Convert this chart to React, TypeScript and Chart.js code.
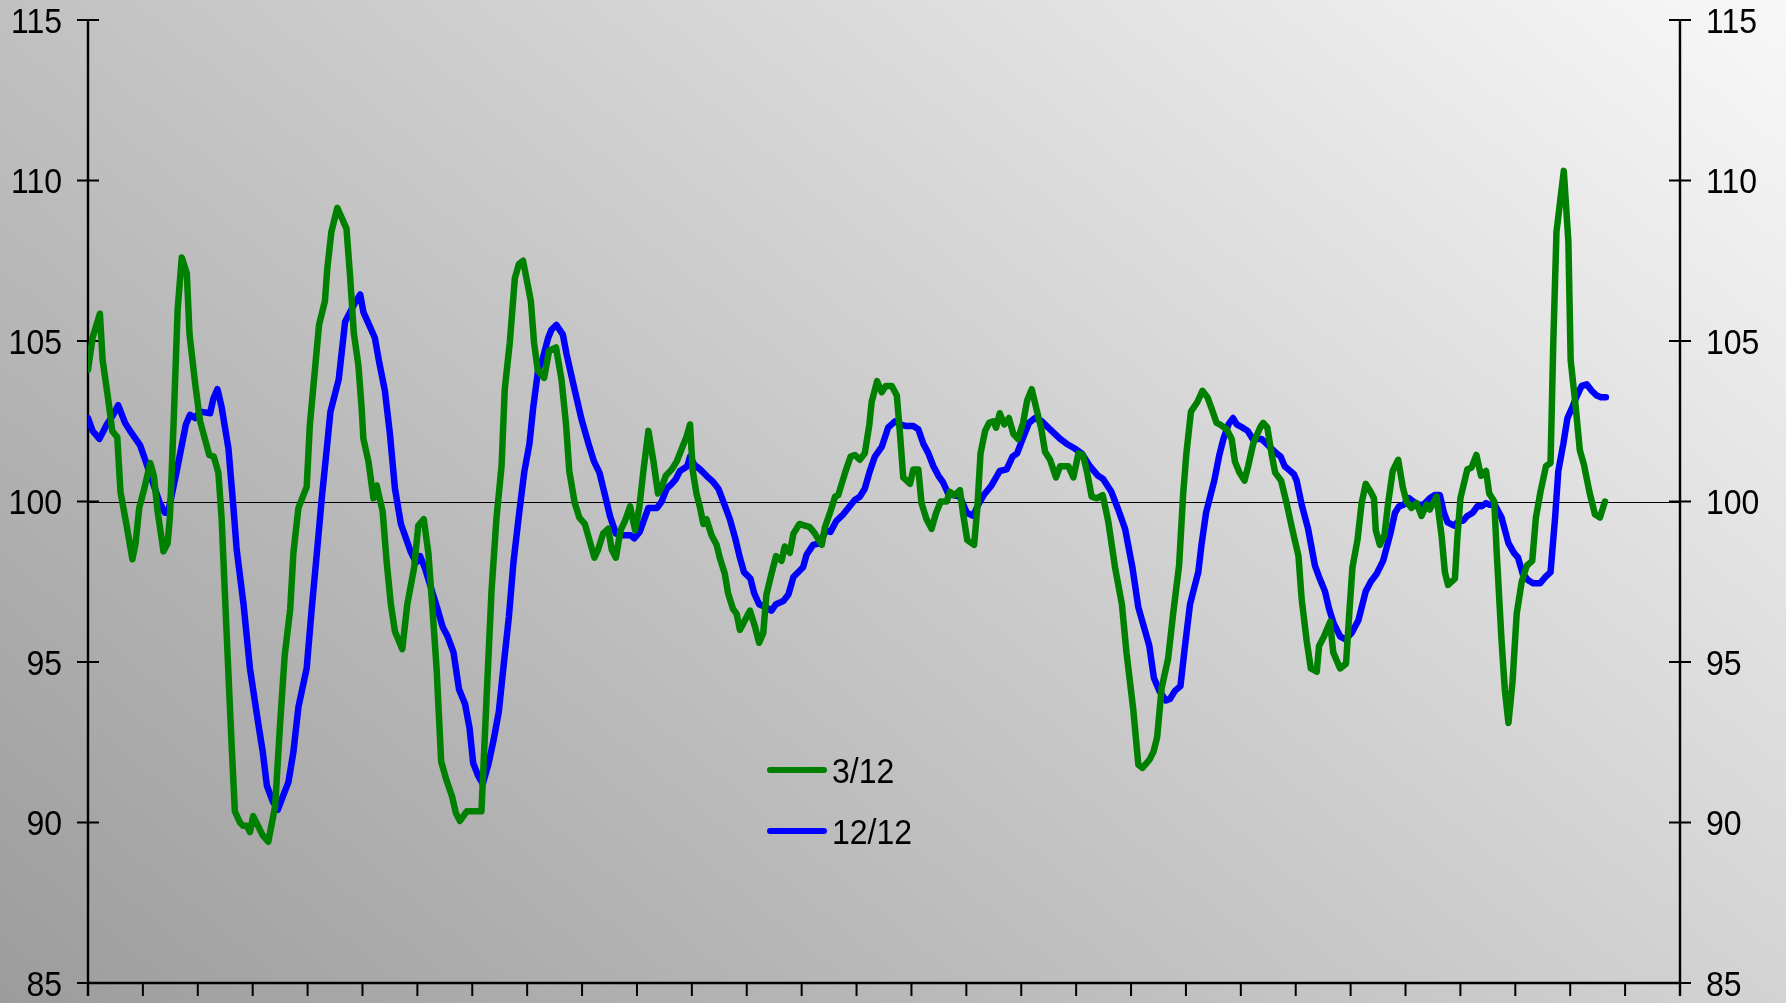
import React, { useEffect, useRef } from "react";
import { Chart, registerables } from "chart.js";

Chart.register(...registerables);

const W = 1786;
const H = 1003;

const seriesLabels = ["3/12", "12/12"];
const seriesColors = ["#008000", "#0000ff"];

const yMin = 85;
const yMax = 115;
const yStep = 5;
const xMin = 0;
const xMax = 348;
const xStep = 12;
const refValue = 100;

const greenMonths = [
  0, 1, 2.6, 3.2, 4.4, 5.3, 6.4, 7.1, 8.5, 9.7, 10.4, 11.2, 12.3, 13.6, 14.4, 15.2, 16.5, 17.4, 17.9, 18.7,
  19.6, 20.5, 21.6, 22.2, 23.4, 24.5, 26.5, 27.5, 28.5, 29.2, 30.3, 31.4, 32.1, 33.2, 33.9, 34.7, 35.4, 36.1, 38.2, 39.4,
  40.9, 42.0, 43.0, 44.2, 44.9, 46.0, 47.1, 47.8, 48.5, 49.6, 50.5, 51.8, 52.3, 53.2, 54.5, 56.5, 57.3, 58.1, 59.1, 59.8,
  60.2, 61.3, 62.4, 63.1, 64.4, 65.3, 66.2, 67.1, 68.7, 69.8, 71.3, 72.2, 73.4, 74.4, 75.3, 76.2, 77.2, 78.4, 79.6, 80.4,
  81.3, 82.8, 86.0, 87.1, 88.2, 89.3, 90.4, 91.1, 92.2, 93.3, 94.2, 95.1, 96.8, 97.5, 98.3, 99.7, 100.8, 102.3, 103.5, 104.5,
  105.2, 106.4, 107.4, 108.6, 109.7, 110.7, 111.5, 112.6, 113.7, 114.5, 115.4, 116.4, 117.4, 118.5, 119.6, 120.5, 121.4, 122.5, 123.6, 124.6,
  125.4, 126.3, 127.6, 128.7, 129.8, 130.8, 131.6, 132.2, 133.0, 133.8, 134.5, 135.2, 136.3, 137.4, 138.1, 139.2, 139.9, 141.0, 141.8, 142.5,
  143.6, 144.7, 145.8, 146.7, 147.6, 148.3, 149.4, 150.4, 151.6, 152.3, 153.4, 154.2, 155.5, 156.7, 157.8, 158.9, 160.4, 161.1, 162.2, 163.3,
  164.0, 165.5, 166.7, 167.6, 168.7, 169.8, 170.8, 171.3, 172.5, 173.5, 174.4, 175.7, 176.8, 177.5, 178.2, 179.7, 180.4, 181.5, 182.2, 183.3,
  184.4, 185.4, 186.4, 187.7, 188.4, 189.4, 190.6, 191.3, 192.2, 193.7, 194.4, 195.1, 196.1, 197.0, 197.9, 198.5, 199.3, 200.3, 201.3, 202.3,
  203.3, 204.4, 205.3, 206.3, 207.3, 208.4, 209.2, 210.3, 211.6, 212.5, 214.3, 215.4, 216.5, 217.5, 218.4, 219.4, 220.6, 221.8, 223.0, 224.5,
  226.0, 227.0, 228.5, 229.6, 230.5, 232.0, 232.9, 233.7, 234.7, 236.1, 237.2, 238.5, 239.4, 240.1, 241.1, 242.5, 243.6, 244.7, 245.6, 246.7,
  247.4, 248.9, 250.0, 250.7, 251.7, 252.8, 253.6, 254.7, 256.2, 256.9, 257.8, 258.7, 259.5, 260.8, 262.0, 263.3, 264.6, 265.3, 266.4, 267.3,
  268.6, 269.1, 270.2, 271.5, 272.2, 273.7, 275.0, 275.7, 276.4, 277.5, 278.4, 279.3, 280.4, 281.1, 281.5, 282.4, 283.4, 284.2, 285.2, 286.4,
  287.4, 288.2, 289.3, 290.4, 291.5, 292.6, 293.3, 294.8, 295.9, 296.6, 297.3, 298.8, 299.3, 300.0, 301.5, 302.4, 303.5, 304.5, 305.6, 306.3,
  307.4, 307.9, 309.0, 309.7, 310.5, 311.4, 312.3, 313.4, 314.5, 315.7, 316.5, 317.5, 318.7, 319.7, 320.3, 321.0, 322.6, 323.6, 324.1, 325.2,
  326.1, 327.0, 328.2, 329.4, 330.5, 331.6,
];
const greenValues = [
  104.1, 105.1, 105.85, 104.4, 103.2, 102.2, 102.0, 100.3, 99.2, 98.2, 98.7, 99.8, 100.4, 101.2, 100.8, 99.7, 98.45, 98.7, 99.5, 102.4,
  106.0, 107.6, 107.1, 105.2, 103.7, 102.5, 101.45, 101.4, 100.9, 99.5, 95.9, 92.4, 90.35, 90.0, 89.9, 89.9, 89.7, 90.2, 89.6, 89.4,
  90.5, 93.1, 95.2, 96.65, 98.4, 99.8, 100.2, 100.45, 102.4, 104.1, 105.5, 106.25, 107.25, 108.4, 109.15, 108.5, 107.0, 105.25, 104.25, 102.95,
  101.95, 101.25, 100.1, 100.5, 99.7, 98.1, 96.8, 95.95, 95.4, 96.8, 97.95, 99.25, 99.45, 98.4, 96.65, 94.8, 91.9, 91.3, 90.8, 90.3,
  90.05, 90.35, 90.35, 93.8, 97.2, 99.5, 101.1, 103.5, 104.95, 106.95, 107.4, 107.5, 106.25, 104.95, 104.1, 103.85, 104.7, 104.8, 103.8, 102.4,
  100.95, 99.95, 99.5, 99.3, 98.75, 98.25, 98.5, 99.0, 99.15, 98.5, 98.25, 99.1, 99.4, 99.85, 99.1, 99.8, 100.95, 102.2, 101.25, 100.25,
  100.45, 100.8, 101.0, 101.25, 101.65, 102.0, 102.4, 100.95, 100.25, 99.8, 99.3, 99.45, 98.95, 98.65, 98.25, 97.75, 97.15, 96.65, 96.5, 96.0,
  96.3, 96.6, 96.1, 95.6, 95.9, 97.1, 97.75, 98.3, 98.15, 98.6, 98.4, 99.0, 99.3, 99.25, 99.2, 99.0, 98.65, 99.2, 99.65, 100.15,
  100.2, 100.9, 101.4, 101.45, 101.3, 101.5, 102.4, 103.1, 103.75, 103.4, 103.6, 103.6, 103.3, 102.1, 100.75, 100.55, 101.0, 101.0, 99.95, 99.45,
  99.15, 99.65, 100.0, 100.0, 100.3, 100.2, 100.35, 99.6, 98.8, 98.65, 99.8, 101.5, 102.2, 102.45, 102.5, 102.3, 102.75, 102.4, 102.6, 102.1,
  101.95, 102.45, 103.15, 103.5, 102.9, 102.25, 101.55, 101.3, 100.75, 101.1, 101.1, 100.75, 101.5, 101.45, 100.9, 100.15, 100.1, 100.2, 99.4, 97.95,
  96.8, 95.3, 93.5, 91.8, 91.7, 91.95, 92.2, 92.65, 94.2, 95.1, 96.5, 98.0, 100.25, 101.5, 102.8, 103.1, 103.45, 103.25, 102.9, 102.45,
  102.4, 102.25, 101.95, 101.25, 100.9, 100.65, 101.1, 101.8, 102.3, 102.45, 102.3, 101.5, 100.9, 100.65, 99.95, 99.1, 98.3, 96.95, 95.65, 94.8,
  94.7, 95.5, 95.8, 96.25, 95.3, 94.8, 94.95, 96.5, 97.95, 98.8, 99.95, 100.55, 100.3, 100.1, 99.1, 98.65, 98.95, 99.95, 100.95, 101.3,
  100.45, 100.0, 99.8, 99.95, 99.55, 99.9, 99.75, 100.15, 98.9, 97.8, 97.4, 97.6, 98.8, 100.1, 101.0, 101.05, 101.45, 100.8, 100.95, 100.25,
  100.0, 98.5, 95.65, 94.15, 93.1, 94.4, 96.5, 97.5, 98.0, 98.15, 99.5, 100.3, 101.1, 101.2, 104.95, 108.4, 110.3, 108.1, 104.4, 102.95,
  101.6, 101.15, 100.3, 99.6, 99.5, 100.0,
];

const blueMonths = [
  0, 1, 2.5, 4.1, 5.5, 6.6, 8.1, 9.2, 11.4, 12.5, 13.9, 15.7, 16.8, 17.5, 19.4, 21.4, 22.3, 23.4, 24.5, 26.7,
  27.4, 28.3, 29.2, 30.7, 31.8, 32.5, 34.0, 35.4, 37.2, 38.2, 39.1, 40.4, 41.5, 42.7, 43.8, 44.9, 46.0, 47.8, 48.9, 50.0,
  51.1, 52.2, 53.0, 54.8, 56.2, 57.3, 58.4, 59.5, 60.2, 61.3, 62.7, 63.7, 64.9, 66.0, 67.1, 68.4, 69.4, 70.5, 71.7, 72.6,
  73.7, 75.1, 76.4, 77.5, 78.6, 79.9, 81.1, 82.4, 83.4, 84.2, 85.3, 86.3, 87.5, 88.7, 89.8, 90.9, 92.0, 93.0, 94.3, 95.4,
  96.5, 97.3, 98.4, 99.4, 100.6, 101.3, 102.4, 103.8, 104.6, 105.7, 107.0, 107.9, 109.4, 110.6, 111.8, 113.0, 114.1, 115.4, 116.6, 117.7,
  118.6, 119.4, 120.6, 121.6, 122.5, 124.4, 125.4, 126.5, 127.6, 128.5, 129.4, 131.0, 131.6, 132.5, 133.8, 135.2, 136.7, 137.8, 139.0, 140.3,
  141.4, 142.5, 143.4, 144.8, 145.6, 146.7, 148.2, 149.4, 150.4, 152.0, 153.1, 154.2, 154.9, 156.3, 157.1, 158.5, 160.0, 161.3, 162.3, 163.6,
  165.1, 166.5, 167.6, 168.7, 169.8, 170.8, 172.0, 173.5, 174.9, 176.4, 177.5, 178.9, 180.4, 181.5, 182.6, 183.7, 184.8, 185.9, 186.9, 188.0,
  189.1, 190.6, 192.1, 193.5, 194.6, 195.8, 197.5, 199.3, 200.8, 202.1, 203.1, 204.3, 205.7, 207.0, 208.5, 209.9, 211.4, 212.5, 213.9, 215.7,
  217.2, 219.0, 220.8, 221.9, 223.7, 225.2, 226.7, 228.3, 229.6, 230.8, 232.0, 233.0, 234.2, 235.6, 236.5, 237.6, 238.8, 239.8, 240.9, 241.7,
  242.7, 243.4, 244.4, 245.2, 246.2, 247.3, 248.2, 249.3, 250.3, 251.1, 252.4, 253.5, 254.6, 255.4, 256.5, 257.6, 258.7, 259.8, 260.7, 261.6,
  262.4, 263.6, 264.2, 265.3, 266.7, 268.2, 269.1, 270.4, 271.3, 272.3, 273.7, 274.9, 276.2, 277.7, 279.3, 280.4, 281.7, 283.1, 284.6, 285.7,
  286.6, 287.6, 288.8, 289.7, 290.8, 291.9, 293.3, 294.4, 295.5, 296.4, 297.2, 298.6, 299.7, 300.6, 301.5, 302.7, 303.7, 304.6, 305.6, 306.4,
  307.5, 309.0, 310.5, 311.7, 312.6, 313.6, 314.8, 315.9, 317.4, 318.6, 319.7, 320.7, 321.4, 322.5, 323.4, 324.5, 325.5, 326.5, 327.6, 328.7,
  329.8, 330.7, 331.8,
];
const blueValues = [
  102.6, 102.2, 101.95, 102.4, 102.7, 103.0, 102.45, 102.2, 101.75, 101.3, 100.7, 99.95, 99.65, 99.65, 100.95, 102.4, 102.7, 102.6, 102.8, 102.75,
  103.2, 103.5, 102.95, 101.65, 99.8, 98.5, 96.8, 94.8, 93.1, 92.2, 91.15, 90.65, 90.4, 90.85, 91.25, 92.2, 93.6, 94.8, 96.65, 98.35,
  100.1, 101.65, 102.8, 103.8, 105.6, 105.9, 106.2, 106.45, 105.9, 105.55, 105.1, 104.3, 103.45, 102.1, 100.4, 99.3, 98.9, 98.45, 98.1, 98.3,
  97.9, 97.25, 96.65, 96.1, 95.8, 95.3, 94.15, 93.7, 92.95, 91.85, 91.45, 91.2, 91.8, 92.6, 93.45, 94.95, 96.4, 98.1, 99.7, 100.95,
  101.8, 102.9, 104.1, 104.45, 105.1, 105.35, 105.5, 105.2, 104.6, 103.9, 103.1, 102.55, 101.8, 101.25, 100.9, 100.2, 99.55, 99.0, 98.95, 98.95,
  98.95, 98.85, 99.05, 99.45, 99.8, 99.8, 100.0, 100.4, 100.55, 100.7, 100.95, 101.1, 101.4, 101.15, 101.0, 100.8, 100.6, 100.4, 99.95, 99.45,
  98.9, 98.25, 97.8, 97.6, 97.15, 96.8, 96.7, 96.6, 96.8, 96.9, 97.1, 97.65, 97.75, 97.95, 98.35, 98.65, 98.7, 99.1, 99.05, 99.4,
  99.6, 99.85, 100.05, 100.15, 100.4, 100.9, 101.4, 101.7, 102.3, 102.5, 102.4, 102.35, 102.35, 102.25, 101.8, 101.5, 101.1, 100.8, 100.6, 100.25,
  100.2, 100.15, 99.65, 99.55, 99.9, 100.2, 100.5, 100.95, 101.0, 101.4, 101.5, 101.95, 102.45, 102.6, 102.5, 102.3, 102.1, 101.95, 101.8, 101.65,
  101.5, 101.1, 100.8, 100.7, 100.3, 99.75, 99.15, 97.95, 96.7, 96.1, 95.5, 94.5, 94.1, 93.8, 93.85, 94.1, 94.25, 95.5, 96.8, 97.25,
  97.8, 98.65, 99.65, 100.1, 100.65, 101.45, 101.95, 102.4, 102.6, 102.4, 102.3, 102.2, 101.95, 101.95, 101.95, 101.8, 101.65, 101.5, 101.4, 101.1,
  101.0, 100.85, 100.65, 99.9, 99.15, 98.0, 97.65, 97.2, 96.65, 96.2, 95.8, 95.7, 95.9, 96.3, 97.2, 97.5, 97.75, 98.15, 98.95, 99.65,
  99.85, 99.9, 100.1, 100.0, 99.9, 99.9, 100.1, 100.2, 100.2, 99.65, 99.35, 99.25, 99.4, 99.4, 99.55, 99.65, 99.85, 99.85, 99.95, 99.9,
  99.9, 99.5, 98.7, 98.4, 98.25, 97.75, 97.55, 97.45, 97.45, 97.65, 97.8, 99.5, 100.95, 101.8, 102.6, 102.95, 103.3, 103.6, 103.65, 103.45,
  103.3, 103.25, 103.25,
];

const FONT_FAMILY = "'Liberation Sans', Arial, Helvetica, sans-serif";
const FONT_SIZE = 32;
const TEXT_STRETCH = 1.11; // glyphs in the reference are slightly taller than wide
const LINE_W = 6.5;

// draw text vertically centered on y (digit-height centre), stretched vertically
function drawText(ctx: CanvasRenderingContext2D, text: string, x: number, y: number, align: CanvasTextAlign) {
  ctx.save();
  ctx.translate(x, y);
  ctx.scale(1, TEXT_STRETCH);
  ctx.font = `${FONT_SIZE}px ${FONT_FAMILY}`;
  ctx.textAlign = align;
  ctx.textBaseline = "alphabetic";
  ctx.fillStyle = "#000";
  ctx.fillText(text, 0, 0.358 * FONT_SIZE);
  ctx.restore();
}

const axesPlugin = {
  id: "axesPlugin",
  beforeDatasetsDraw(chart: any) {
    const { ctx, chartArea: a, scales } = chart;
    const ys = scales.y;
    const xs = scales.x;
    ctx.save();
    // reference line
    ctx.strokeStyle = "#000";
    ctx.lineWidth = 1;
    const yr = Math.round(ys.getPixelForValue(refValue)) + 0.5;
    ctx.beginPath();
    ctx.moveTo(a.left, yr);
    ctx.lineTo(a.right, yr);
    ctx.stroke();
    // axis lines
    ctx.lineWidth = 2.4;
    ctx.lineCap = "butt";
    const xTickLen = 13;
    ctx.beginPath();
    ctx.moveTo(a.left, a.top);
    ctx.lineTo(a.left, a.bottom + xTickLen);
    ctx.moveTo(a.right, a.top);
    ctx.lineTo(a.right, a.bottom + xTickLen);
    ctx.moveTo(a.left, a.bottom);
    ctx.lineTo(a.right, a.bottom);
    ctx.stroke();
    ctx.lineWidth = 2;
    ctx.beginPath();
    // y ticks, crossing both axes
    for (const t of ys.ticks) {
      const py = ys.getPixelForValue(t.value);
      ctx.moveTo(a.left - 11, py);
      ctx.lineTo(a.left + 11, py);
      ctx.moveTo(a.right - 11, py);
      ctx.lineTo(a.right + 11, py);
    }
    // x ticks
    for (const t of xs.ticks) {
      const px = xs.getPixelForValue(t.value);
      ctx.moveTo(px, a.bottom);
      ctx.lineTo(px, a.bottom + xTickLen);
    }
    ctx.stroke();
    // y tick labels, both sides
    for (const t of ys.ticks) {
      const py = ys.getPixelForValue(t.value);
      drawText(ctx, String(t.value), a.left - 26, py, "right");
      drawText(ctx, String(t.value), a.right + 26, py, "left");
    }
    ctx.restore();
  },
};

const legendPlugin = {
  id: "customLegend",
  afterDatasetsDraw(chart: any) {
    const { ctx } = chart;
    const x0 = 770;
    const x1 = 824;
    const tx = 832;
    const y0 = 770;
    const gap = 61;
    ctx.save();
    chart.data.datasets.forEach((ds: any, i: number) => {
      const y = y0 + i * gap;
      ctx.strokeStyle = ds.borderColor;
      ctx.lineWidth = 6;
      ctx.lineCap = "round";
      ctx.beginPath();
      ctx.moveTo(x0, y);
      ctx.lineTo(x1, y);
      ctx.stroke();
      drawText(ctx, ds.label, tx, y + 0.5, "left");
    });
    ctx.restore();
  },
};

function makeYScale(position: "left" | "right", width: number) {
  return {
    type: "linear",
    position,
    min: yMin,
    max: yMax,
    ticks: { display: false, stepSize: yStep },
    grid: { display: false, drawTicks: false },
    border: { display: false },
    afterFit: (s: any) => {
      s.width = width;
      s.paddingTop = 0;
      s.paddingBottom = 0;
    },
  };
}

export default function App() {
  const canvasRef = useRef<HTMLCanvasElement | null>(null);

  useEffect(() => {
    if (!canvasRef.current) return;
    const chart = new Chart(canvasRef.current, {
      type: "line",
      data: {
        datasets: [
          {
            label: seriesLabels[0],
            data: greenMonths.map((m, i) => ({ x: m, y: greenValues[i] })),
            borderColor: seriesColors[0],
            backgroundColor: seriesColors[0],
            borderWidth: LINE_W,
            pointRadius: 0,
            borderJoinStyle: "round",
            borderCapStyle: "round",
            tension: 0,
            yAxisID: "y",
          },
          {
            label: seriesLabels[1],
            data: blueMonths.map((m, i) => ({ x: m, y: blueValues[i] })),
            borderColor: seriesColors[1],
            backgroundColor: seriesColors[1],
            borderWidth: LINE_W,
            pointRadius: 0,
            borderJoinStyle: "round",
            borderCapStyle: "round",
            tension: 0,
            yAxisID: "y",
          },
        ],
      },
      options: {
        responsive: false,
        animation: false,
        devicePixelRatio: 1,
        layout: { padding: { top: 20, left: 0, right: 0, bottom: 0 } },
        plugins: {
          legend: { display: false },
          tooltip: { enabled: false },
        },
        scales: {
          x: {
            type: "linear",
            min: xMin,
            max: xMax,
            ticks: { display: false, stepSize: xStep },
            grid: { display: false, drawTicks: false },
            border: { display: false },
            afterFit: (s: any) => {
              s.height = 20;
              s.paddingLeft = 0;
              s.paddingRight = 0;
            },
          },
          y: makeYScale("left", 88),
          y2: makeYScale("right", 106),
        },
      } as any,
      plugins: [axesPlugin, legendPlugin],
    });
    return () => chart.destroy();
  }, []);

  return (
    <div
      style={{
        position: "fixed",
        left: 0,
        top: 0,
        width: W,
        height: H,
        background: "linear-gradient(40deg, #9c9c9c 0%, #f8f8f8 100%)",
      }}
    >
      <canvas ref={canvasRef} width={W} height={H} style={{ display: "block" }} />
    </div>
  );
}
